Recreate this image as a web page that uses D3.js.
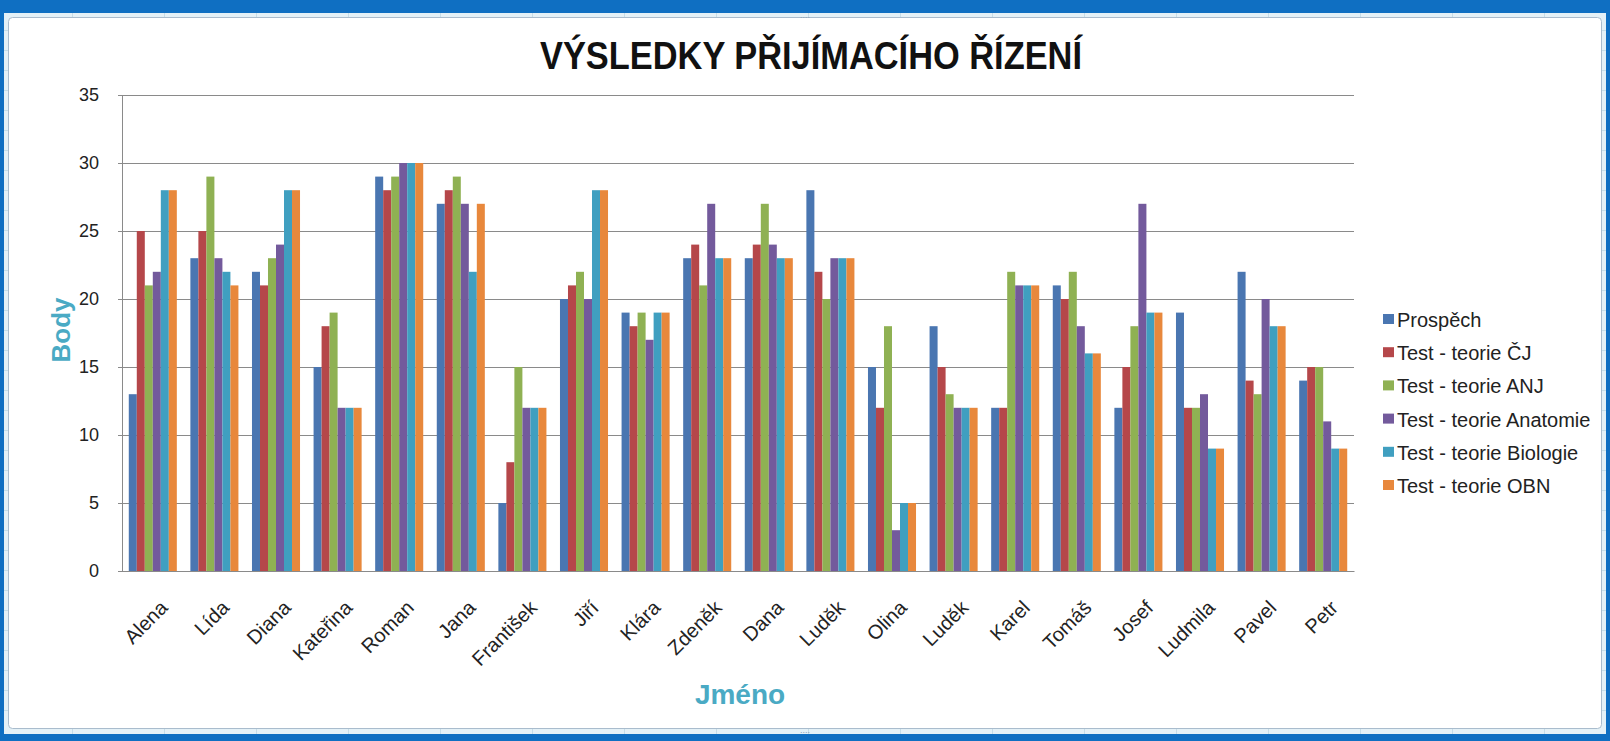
<!DOCTYPE html>
<html>
<head>
<meta charset="utf-8">
<script src="https://cdnjs.cloudflare.com/ajax/libs/d3/7.8.5/d3.min.js"></script>
<style>
  html, body { margin: 0; padding: 0; background: #0f6fc2; overflow: hidden; }
  text { font-family: Arial, "Liberation Sans", sans-serif; }
</style>
</head>
<body>
<div class="canvas"></div>
<script>
// data
const names = ["Alena", "Lída", "Diana", "Kateřina", "Roman", "Jana", "František", "Jiří", "Klára", "Zdeněk",
  "Dana", "Luděk", "Olina", "Luděk", "Karel", "Tomáš", "Josef", "Ludmila", "Pavel", "Petr"];
const seriesNames = ["Prospěch", "Test - teorie ČJ", "Test - teorie ANJ", "Test - teorie Anatomie",
  "Test - teorie Biologie", "Test - teorie OBN"];
const prospech = [13, 23, 22, 15, 29, 27, 5, 20, 19, 23, 23, 28, 15, 18, 12, 21, 12, 19, 22, 14];
const testCJ = [25, 25, 21, 18, 28, 28, 8, 21, 18, 24, 24, 22, 12, 15, 12, 20, 15, 12, 14, 15];
const testANJ = [21, 29, 23, 19, 29, 29, 15, 22, 19, 21, 27, 20, 18, 13, 22, 22, 18, 12, 13, 15];
const testAnatomie = [22, 23, 24, 12, 30, 27, 12, 20, 17, 27, 24, 23, 3, 12, 21, 18, 27, 13, 20, 11];
const testBiologie = [28, 22, 28, 12, 30, 22, 12, 28, 19, 23, 23, 23, 5, 12, 21, 16, 19, 9, 18, 9];
const testOBN = [28, 21, 28, 12, 30, 27, 12, 28, 19, 23, 23, 23, 5, 12, 21, 16, 19, 9, 18, 9];
const yTicks = [0, 5, 10, 15, 20, 25, 30, 35];
const colors = ["#4a76b1", "#b5474a", "#8fb153", "#735a9c", "#409fc0", "#e8883c"];

const allSeries = [prospech, testCJ, testANJ, testAnatomie, testBiologie, testOBN];

const width = 1610;
const height = 741;
const margin = { top: 95, left: 122 };
const graphWidth = 1354 - 122;
const graphHeight = 571 - 95;

const svg = d3
  .select(".canvas")
  .append("svg")
  .attr("width", width)
  .attr("height", height)
  .style("display", "block");

// sheet strip + chart area
svg.append("rect")
  .attr("x", 4).attr("y", 13)
  .attr("width", 1602).attr("height", 721)
  .attr("fill", "#e4f1f7");

const cellLines = svg.append("g").attr("stroke", "#c6dde8").attr("stroke-width", 1);
d3.range(72, 1600, 92).forEach((cx) => {
  cellLines.append("line").attr("x1", cx + 0.5).attr("x2", cx + 0.5).attr("y1", 13).attr("y2", 18);
  cellLines.append("line").attr("x1", cx + 0.5).attr("x2", cx + 0.5).attr("y1", 729).attr("y2", 734);
});
d3.range(30, 730, 20).forEach((cy) => {
  cellLines.append("line").attr("x1", 4).attr("x2", 9).attr("y1", cy + 0.5).attr("y2", cy + 0.5);
  cellLines.append("line").attr("x1", 1601).attr("x2", 1606).attr("y1", cy + 0.5).attr("y2", cy + 0.5);
});

svg.append("rect")
  .attr("x", 8.5).attr("y", 17.5)
  .attr("width", 1593).attr("height", 711)
  .attr("rx", 4)
  .attr("fill", "#fff")
  .attr("stroke", "#a9bccd");

// little resize handles
[[805, 15], [805, 730]].forEach(([hx, hy]) => {
  svg.append("text").attr("x", hx).attr("y", hy + 3).attr("text-anchor", "middle")
    .attr("font-size", 9).attr("fill", "#8aa0b4").text("....");
});

const graph = svg
  .append("g")
  .attr("transform", `translate(${margin.left}, ${margin.top})`);

// scales
const x0 = d3.scaleBand()
  .domain(d3.range(names.length))
  .range([0, graphWidth])
  .paddingInner(0.22)
  .paddingOuter(0.11);

const x1 = d3.scaleBand()
  .domain(d3.range(seriesNames.length))
  .range([0, x0.bandwidth()]);

const y = d3.scaleLinear().domain([0, 35]).range([graphHeight, 0]);

// gridlines
graph.append("g")
  .selectAll("line")
  .data(yTicks)
  .enter()
  .append("line")
  .attr("x1", 0)
  .attr("x2", graphWidth)
  .attr("y1", (d) => Math.round(y(d)) + 0.5)
  .attr("y2", (d) => Math.round(y(d)) + 0.5)
  .attr("stroke", "#8a8a8a");

// bars
const groups = graph.selectAll(".group")
  .data(names)
  .enter()
  .append("g")
  .attr("class", "group")
  .attr("transform", (d, i) => `translate(${x0(i)}, 0)`);

groups.selectAll("rect")
  .data((d, i) => allSeries.map((s, k) => ({ k: k, v: s[i] })))
  .enter()
  .append("rect")
  .attr("x", (d) => x1(d.k))
  .attr("y", (d) => y(d.v))
  .attr("width", x1.bandwidth())
  .attr("height", (d) => graphHeight - y(d.v))
  .attr("fill", (d) => colors[d.k]);

// axes
const yAxis = d3.axisLeft(y).tickValues(yTicks).tickSize(4).tickPadding(19);
const yAxisGroup = graph.append("g").attr("class", "y-axis").call(yAxis);
yAxisGroup.select(".domain").attr("stroke", "#8a8a8a");
yAxisGroup.selectAll(".tick line").attr("stroke", "#8a8a8a");
yAxisGroup.selectAll(".tick text")
  .attr("font-size", 18)
  .attr("fill", "#222");

const xAxis = d3.axisBottom(x0).tickSize(0).tickFormat((i) => names[i]);
const xAxisGroup = graph.append("g")
  .attr("class", "x-axis")
  .attr("transform", `translate(0, ${graphHeight})`)
  .call(xAxis);
xAxisGroup.select(".domain").attr("stroke", "#8a8a8a");
xAxisGroup.selectAll(".tick text")
  .attr("font-size", 20)
  .attr("fill", "#222")
  .attr("text-anchor", "end")
  .attr("x", 0)
  .attr("y", 0)
  .attr("dy", 0)
  .attr("transform", "translate(16, 38) rotate(-45)");

// title and axis titles
svg.append("text")
  .attr("x", 811)
  .attr("y", 69)
  .attr("text-anchor", "middle")
  .attr("font-size", 39)
  .attr("font-weight", "bold")
  .attr("fill", "#111")
  .attr("textLength", 542)
  .attr("lengthAdjust", "spacingAndGlyphs")
  .text("VÝSLEDKY PŘIJÍMACÍHO ŘÍZENÍ");

svg.append("text")
  .attr("transform", "translate(70, 330) rotate(-90)")
  .attr("text-anchor", "middle")
  .attr("font-size", 26)
  .attr("font-weight", "bold")
  .attr("fill", "#4aaac4")
  .text("Body");

svg.append("text")
  .attr("x", 740)
  .attr("y", 704)
  .attr("text-anchor", "middle")
  .attr("font-size", 28)
  .attr("font-weight", "bold")
  .attr("fill", "#4aaac4")
  .text("Jméno");

// legend
const legend = svg.append("g").attr("transform", "translate(1383, 327)");
const items = legend.selectAll("g")
  .data(seriesNames)
  .enter()
  .append("g")
  .attr("transform", (d, i) => `translate(0, ${i * 33.2})`);
items.append("rect")
  .attr("x", 0).attr("y", -13)
  .attr("width", 11).attr("height", 10)
  .attr("fill", (d, i) => colors[i]);
items.append("text")
  .attr("x", 14)
  .attr("y", 0)
  .attr("font-size", 20)
  .attr("fill", "#222")
  .text((d) => d);
</script>
</body>
</html>
